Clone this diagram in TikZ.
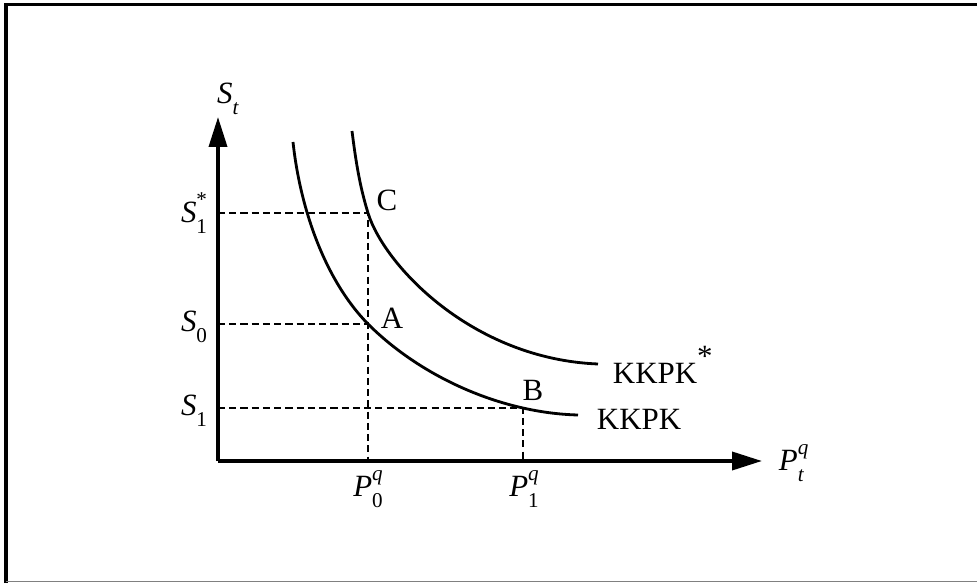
\documentclass[tikz,border=0pt]{standalone}
\usepackage{fontspec}
\setmainfont{Liberation Serif}
\usetikzlibrary{arrows.meta,intersections}
\newcommand{\subsz}{\fontsize{15}{15}\selectfont}
\newcommand{\symb}[3]{\textit{#1}\rlap{\raisebox{0.5em}{\subsz#3}}\raisebox{-0.35em}{\subsz#2}}
\newcommand{\guideline}[1]{\draw[guide] (O|-#1) -- (#1) -- (#1|-O);}

\begin{document}
\begin{tikzpicture}[x=1cm,y=1cm,font=\fontsize{22}{26}\selectfont,
  axis/.style={line width=2.6pt,-{Triangle[length=0.75cm,width=0.45cm]}},
  curve/.style={line width=2pt},
  guide/.style={line width=1.6pt,dash pattern=on 5pt off 3pt}]
\useasboundingbox (0,0) rectangle (24.425,14.575);

%% ---------------- frame ----------------
\draw[line width=2.4pt] (0.15,0) -- (0.15,14.46) -- (24.425,14.46);
\draw[gray,line width=0.8pt] (0.15,0.03) -- (24.425,0.03);

%% ---------------- axes points ----------------
\coordinate (O) at (5.45,3.05);
\coordinate (ytip) at (5.45,11.65);
\coordinate (xtip) at (19.05,3.05);

%% ---------------- curves ----------------
\draw[curve,name path=kk] (7.325,11.025) .. controls (7.5,9.4) and (8.1,7.6) .. (9.2,6.475)
  .. controls (10.5,5.175) and (12.5,4.25) .. (14.45,4.2);
\draw[curve,name path=kkstar] (8.8,11.3) .. controls (8.9,10.5) and (9.0,9.9) .. (9.2,9.25)
  .. controls (9.6,7.95) and (11.8,5.6) .. (14.95,5.475);

%% ---------------- points on the curves ----------------
\path[name path=vA] (9.2,3) -- (9.2,12);
\path[name path=vB] (13.075,3) -- (13.075,12);
\path[name intersections={of=kk and vA,by=A}];
\path[name intersections={of=kkstar and vA,by=C}];
\path[name intersections={of=kk and vB,by=B}];

%% ---------------- guides ----------------
\guideline{C}
\draw[guide] (O|-A) -- (A);
\guideline{B}

%% ---------------- axes ----------------
\draw[axis] (O) -- (ytip);
\draw[axis] (O) -- (xtip);

%% ---------------- labels ----------------
\node (St) at (5.7,12.1) {\symb{S}{\textit{t}}{}};
\node[anchor=west] (Ptq) at (19.35,3.0) {\symb{P}{\textit{t}}{\textit{q}}};
\node (P0) at (9.2,2.35) {\symb{P}{0}{\textit{q}}};
\node (P1) at (13.1,2.35) {\symb{P}{1}{\textit{q}}};
\node[anchor=east] (S1star) at (5.3,9.25) {\symb{S}{1}{*}};
\node[anchor=east] (S0) at (5.3,6.4) {\symb{S}{0}{}};
\node[anchor=east] (S1) at (5.3,4.3) {\symb{S}{1}{}};
\node (labC) at (9.675,9.575) {C};
\node (labA) at (9.8,6.625) {A};
\node (labB) at (13.325,4.825) {B};
\node[anchor=west] (kkpk) at (14.8,4.1) {KKPK};
\node[anchor=west] (kkpkstar) at (15.2,5.45) {KKPK\raisebox{0.55em}{*}};

\end{tikzpicture}
\end{document}
